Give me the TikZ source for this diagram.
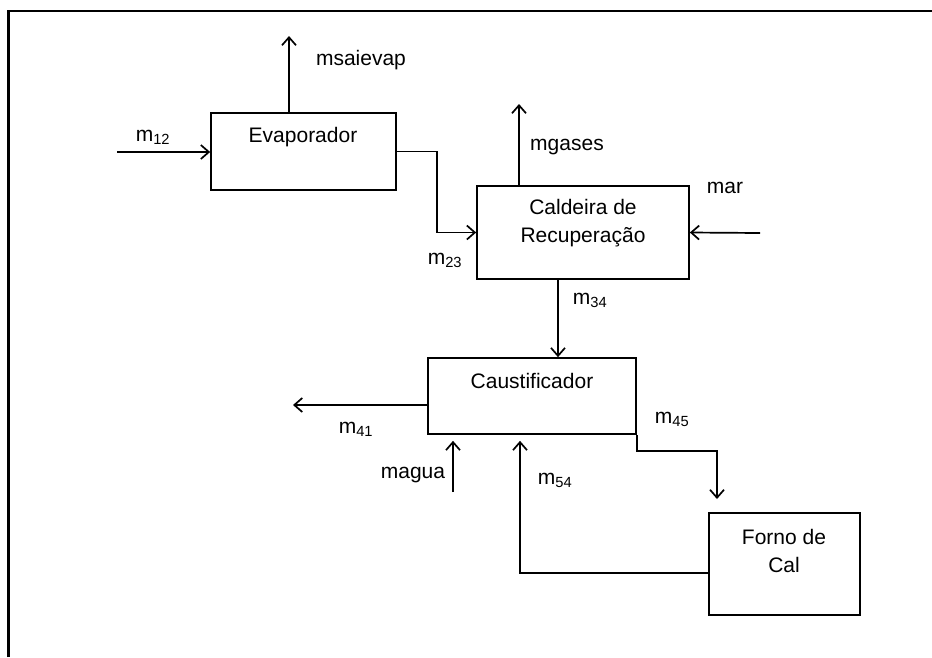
\documentclass[tikz,border=0pt]{standalone}
\usepackage{fontspec}
\setmainfont{Liberation Sans}
\usetikzlibrary{arrows.meta}

\begin{document}
\begin{tikzpicture}[x=1pt, y=-1pt, >={Straight Barb[length=8pt,width=14pt]},
  unit/.style={draw=black, line width=1.7pt, fill=white, inner sep=0pt},
  txt/.style={inner sep=0pt, align=center, font=\fontsize{21}{28}\selectfont},
  flow/.style={draw=black, line width=1.7pt, ->}]
\useasboundingbox (0,0) rectangle (932,657);
\draw[line width=2.4pt] (8.5,657) -- (8.5,10.7) -- (932,10.7);
% units
\node[unit, minimum width=185pt, minimum height=77pt] (evap) at (303.5,151.5) {};
\node[unit, minimum width=212pt, minimum height=93pt] (cald) at (583,232.5) {};
\node[unit, minimum width=208pt, minimum height=76pt] (caus) at (532,396) {};
\node[unit, minimum width=151pt, minimum height=102pt] (forno) at (784.5,564) {};
\node[txt] (evapT) at (303,137) {Evaporador};
\node[txt] (caldT) at (583,223) {Caldeira de\\Recupera\c{c}\~ao};
\node[txt] (causT) at (532,381) {Caustificador};
\node[txt] (fornoT) at (784,551) {Forno de\\Cal};
% free ends
\coordinate (in12) at (117,152);
\coordinate (outevap) at (289,36);
\coordinate (outgas) at (519,104);
\coordinate (inar) at (760,233);
\coordinate (out41) at (293,405);
\coordinate (in45) at (717,499);
\coordinate (inagua) at (453,492);
\coordinate (ret54) at (520,573);
% streams
\draw[flow] (in12) -- (in12 -| evap.west);
\draw[flow] (evap.north -| outevap) -- (outevap);
\draw[flow] (evap.east) -- ++(40,0) |- (cald.west);
\draw[flow] (cald.north -| outgas) -- (outgas);
\draw[flow] (inar) -- (cald.east);
\draw[flow] ([xshift=-25pt]cald.south) -- ([xshift=-25pt]cald.south |- caus.north);
\draw[flow] (caus.west |- out41) -- (out41);
\draw[flow] (caus.south east) -- ++(0,16) -| (in45);
\draw[flow, shorten >=6pt] (inagua) -- (inagua |- caus.south);
\draw[flow, shorten >=6pt] (forno.west |- ret54) -- (ret54) -- (ret54 |- caus.south);
% labels
\node[txt] (l12) at (153,137) {m\textsubscript{12}};
\node[txt] (lsai) at (361,60) {msaievap};
\node[txt] (lgas) at (567,147) {mgases};
\node[txt] (lar) at (725,188) {mar};
\node[txt] (l23) at (445,260) {m\textsubscript{23}};
\node[txt] (l34) at (590,300) {m\textsubscript{34}};
\node[txt] (l41) at (356,429) {m\textsubscript{41}};
\node[txt] (l45) at (672,419) {m\textsubscript{45}};
\node[txt] (lagua) at (413,475) {magua};
\node[txt] (l54) at (555,480) {m\textsubscript{54}};
\end{tikzpicture}
\end{document}
